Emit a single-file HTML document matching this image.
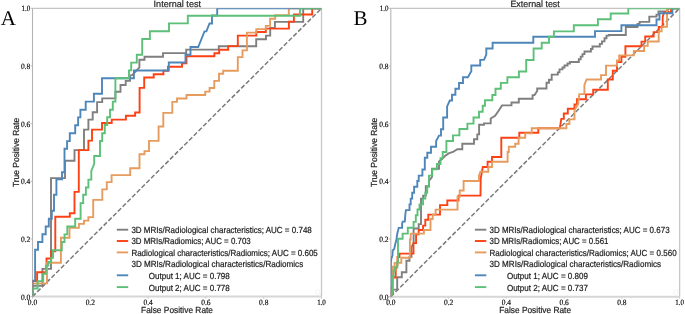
<!DOCTYPE html>
<html><head><meta charset="utf-8"><style>
html,body{margin:0;padding:0;background:#fff;}
body{width:685px;height:314px;overflow:hidden;}
svg{display:block;will-change:transform;}
text{text-rendering:geometricPrecision;}
.tk{font-family:"Liberation Serif",serif;font-size:8.0px;fill:#111;stroke:#111;stroke-width:0.2px;}
.ti{font-family:"Liberation Sans",sans-serif;font-size:9.2px;fill:#222;stroke:#222;stroke-width:0.2px;}
.al{font-family:"Liberation Sans",sans-serif;font-size:8.8px;fill:#222;stroke:#222;stroke-width:0.2px;}
.lg{font-family:"Liberation Sans",sans-serif;font-size:8.8px;fill:#1a1a1a;stroke:#1a1a1a;stroke-width:0.2px;}
.pl{font-family:"Liberation Serif",serif;font-size:21px;fill:#000;}
</style></head><body>
<svg width="685" height="314" viewBox="0 0 685 314">
<rect width="685" height="314" fill="#fff"/>
<text x="0.8" y="25.0" class="pl">A</text>
<text x="353.6" y="25.1" class="pl">B</text>
<clipPath id="c32"><rect x="32.5" y="8.3" width="289.0" height="288.3"/></clipPath>
<line x1="32.50" y1="296.6" x2="32.50" y2="298.6" stroke="#b0b0b0" stroke-width="0.8"/>
<line x1="30.5" y1="296.60" x2="32.5" y2="296.60" stroke="#b0b0b0" stroke-width="0.8"/>
<text x="27.85" y="304.50" class="tk" textLength="9.3" lengthAdjust="spacingAndGlyphs">0.0</text>
<text x="20.90" y="299.50" class="tk" textLength="9.3" lengthAdjust="spacingAndGlyphs">0.0</text>
<line x1="90.30" y1="296.6" x2="90.30" y2="298.6" stroke="#b0b0b0" stroke-width="0.8"/>
<line x1="30.5" y1="238.94" x2="32.5" y2="238.94" stroke="#b0b0b0" stroke-width="0.8"/>
<text x="85.65" y="304.50" class="tk" textLength="9.3" lengthAdjust="spacingAndGlyphs">0.2</text>
<text x="20.90" y="241.84" class="tk" textLength="9.3" lengthAdjust="spacingAndGlyphs">0.2</text>
<line x1="148.10" y1="296.6" x2="148.10" y2="298.6" stroke="#b0b0b0" stroke-width="0.8"/>
<line x1="30.5" y1="181.28" x2="32.5" y2="181.28" stroke="#b0b0b0" stroke-width="0.8"/>
<text x="143.45" y="304.50" class="tk" textLength="9.3" lengthAdjust="spacingAndGlyphs">0.4</text>
<text x="20.90" y="184.18" class="tk" textLength="9.3" lengthAdjust="spacingAndGlyphs">0.4</text>
<line x1="205.90" y1="296.6" x2="205.90" y2="298.6" stroke="#b0b0b0" stroke-width="0.8"/>
<line x1="30.5" y1="123.62" x2="32.5" y2="123.62" stroke="#b0b0b0" stroke-width="0.8"/>
<text x="201.25" y="304.50" class="tk" textLength="9.3" lengthAdjust="spacingAndGlyphs">0.6</text>
<text x="20.90" y="126.52" class="tk" textLength="9.3" lengthAdjust="spacingAndGlyphs">0.6</text>
<line x1="263.70" y1="296.6" x2="263.70" y2="298.6" stroke="#b0b0b0" stroke-width="0.8"/>
<line x1="30.5" y1="65.96" x2="32.5" y2="65.96" stroke="#b0b0b0" stroke-width="0.8"/>
<text x="259.05" y="304.50" class="tk" textLength="9.3" lengthAdjust="spacingAndGlyphs">0.8</text>
<text x="20.90" y="68.86" class="tk" textLength="9.3" lengthAdjust="spacingAndGlyphs">0.8</text>
<line x1="321.50" y1="296.6" x2="321.50" y2="298.6" stroke="#b0b0b0" stroke-width="0.8"/>
<line x1="30.5" y1="8.30" x2="32.5" y2="8.30" stroke="#b0b0b0" stroke-width="0.8"/>
<text x="317.15" y="304.50" class="tk" textLength="8.7" lengthAdjust="spacingAndGlyphs">1.0</text>
<text x="21.50" y="11.20" class="tk" textLength="8.7" lengthAdjust="spacingAndGlyphs">1.0</text>
<line x1="32.5" y1="8.3" x2="321.5" y2="8.3" stroke="#c4c4c4" stroke-width="1.3"/>
<line x1="321.5" y1="8.3" x2="321.5" y2="296.6" stroke="#c8c8c8" stroke-width="1.3"/>
<line x1="32.5" y1="296.6" x2="321.5" y2="296.6" stroke="#d6d6d6" stroke-width="2"/>
<line x1="32.5" y1="8.3" x2="32.5" y2="296.6" stroke="#b4b4b4" stroke-width="1.1"/>
<g clip-path="url(#c32)">
<line x1="32.5" y1="296.6" x2="321.5" y2="8.3" stroke="#7a7a7a" stroke-width="1.5" stroke-dasharray="4.6 2.1"/>
<polyline points="32.5,296.5 32.5,285.8 42.4,285.8 42.4,268.9 51.0,268.9 51.0,178.1 65.0,178.1 65.0,160.7 74.5,160.7 74.5,150.1 84.0,150.1 84.0,129.6 88.4,129.6 88.4,119.6 92.7,119.6 92.7,112.3 97.1,112.3 97.1,102.1 102.2,102.1 102.2,98.4 115.4,98.4 115.4,91.8 120.5,91.8 120.5,85.0 125.7,85.0 125.7,80.9 130.0,80.9 130.0,75.7 132.5,75.0 139.4,67.4 139.4,59.7 144.5,59.7 144.5,56.8 163.0,56.8 163.0,53.1 186.2,53.1 186.2,49.6 218.8,49.6 218.8,46.2 256.2,46.2 256.2,39.2 266.0,39.2 266.0,35.6 270.2,35.6 270.2,28.0 274.9,28.0 274.9,21.9 303.2,21.9 303.2,8.3 321.5,8.3" fill="none" stroke="#7f7f7f" stroke-width="1.9" stroke-linejoin="miter"/>
<polyline points="32.5,296.5 32.5,281.0 37.1,281.0 37.1,272.3 46.5,272.3 46.5,258.5 51.2,258.5 51.2,251.4 55.3,251.4 55.3,216.7 69.8,216.7 69.8,213.3 74.5,213.3 74.5,191.9 78.8,191.9 78.8,150.1 88.4,150.1 88.4,140.6 92.0,140.6 92.0,129.6 102.0,129.6 102.0,123.0 111.7,123.0 111.7,119.6 125.9,119.6 125.9,115.8 135.1,115.8 135.1,112.5 139.6,112.5 139.6,87.9 144.2,87.9 144.2,77.5 153.7,77.5 153.7,74.2 163.4,74.2 163.4,70.8 168.0,70.8 168.0,66.8 182.0,66.8 182.0,63.4 186.5,63.4 186.5,56.3 214.4,56.3 214.4,53.3 219.2,53.3 219.2,49.7 228.2,49.7 228.2,46.1 237.8,46.1 237.8,35.6 256.3,35.6 256.3,32.0 265.8,32.0 265.8,28.6 288.9,28.6 288.9,21.6 293.9,21.6 293.9,14.5 312.2,14.5 312.2,8.3 321.5,8.3" fill="none" stroke="#fc4114" stroke-width="1.9" stroke-linejoin="miter"/>
<polyline points="32.5,296.5 32.5,283.4 47.0,283.4 47.0,262.7 60.9,262.7 60.9,237.8 69.5,237.8 69.5,227.9 78.9,227.9 78.9,223.9 84.0,223.9 84.0,220.6 88.4,220.6 88.4,217.1 93.2,217.1 93.2,199.9 102.3,199.9 102.3,189.4 106.8,189.4 106.8,182.1 111.6,182.1 111.6,175.1 130.2,175.1 130.2,168.3 139.5,168.3 139.5,154.2 144.5,154.2 144.5,151.1 149.0,151.1 149.0,140.9 158.6,140.9 158.6,126.5 163.3,126.5 163.3,112.9 172.3,112.9 172.3,101.9 177.0,101.9 177.0,98.5 186.5,98.5 186.5,95.0 205.2,95.0 205.2,91.6 209.6,91.6 209.6,88.0 214.3,88.0 214.3,80.9 219.0,80.9 219.0,73.7 223.2,73.7 223.2,70.8 237.8,70.8 237.8,57.1 242.5,57.1 242.5,50.4 246.9,50.4 246.9,32.6 256.3,32.6 256.3,29.1 265.8,29.1 265.8,25.9 270.1,25.9 270.1,18.7 275.2,18.7 275.2,15.1 288.8,15.1 288.8,8.3 321.5,8.3" fill="none" stroke="#e69c5e" stroke-width="1.9" stroke-linejoin="miter"/>
<polyline points="32.5,296.5 32.5,280.7 35.1,280.7 35.1,249.7 38.0,249.7 38.0,242.0 42.4,242.0 42.4,234.3 45.7,234.3 45.7,226.5 48.8,226.5 48.8,218.7 51.8,218.7 51.8,210.8 54.0,210.8 54.0,194.8 56.4,194.8 56.4,179.4 62.0,179.4 62.0,172.3 64.5,172.3 64.5,148.7 67.1,148.7 67.1,141.1 69.8,141.1 69.8,133.3 75.2,133.3 75.2,125.2 78.1,125.2 78.1,117.4 80.4,117.4 80.4,109.7 85.7,109.7 85.7,101.6 93.9,101.6 93.9,93.7 102.0,93.7 102.0,78.2 133.9,78.2 133.9,70.5 168.8,70.5 168.8,62.5 185.5,62.5 185.5,54.7 190.5,54.7 190.5,47.0 198.2,47.0 204.5,31.4 206.4,31.4 209.5,23.5 212.0,23.5 212.0,15.5 217.2,15.5 217.2,8.3 321.5,8.3" fill="none" stroke="#4e86ba" stroke-width="1.9" stroke-linejoin="miter"/>
<polyline points="32.5,296.5 32.5,288.5 37.6,288.5 37.6,281.1 43.2,281.1 43.2,273.7 45.9,273.7 45.9,265.6 48.3,265.6 48.3,262.0 51.2,262.0 51.2,257.9 53.0,257.9 53.0,250.3 61.8,250.3 61.8,242.0 64.5,242.0 64.5,234.4 67.3,234.4 67.3,226.5 75.2,226.5 75.2,218.7 80.6,218.7 80.6,203.1 83.2,203.1 83.2,194.8 85.9,194.8 85.9,187.5 88.4,187.5 88.4,179.6 91.3,179.6 91.3,171.0 94.2,163.8 94.2,156.0 100.0,156.0 100.0,141.0 102.2,141.0 102.2,133.3 104.8,133.3 104.8,125.0 107.2,125.0 107.2,117.2 110.0,117.2 110.0,109.7 112.8,109.7 112.8,101.6 115.4,101.6 115.4,78.2 129.0,78.2 129.0,70.4 131.2,70.4 131.2,62.6 136.8,62.6 136.8,54.7 142.2,54.7 142.2,39.0 149.9,39.0 149.9,31.2 169.0,31.2 169.0,23.4 187.8,23.4 187.8,15.7 300.0,15.7 300.0,8.3 321.5,8.3" fill="none" stroke="#5cc078" stroke-width="1.9" stroke-linejoin="miter"/>
</g>
<text x="153.6" y="7.0" class="ti" textLength="47.4" lengthAdjust="spacingAndGlyphs">Internal test</text>
<text x="141.1" y="313.1" class="al" textLength="71.9" lengthAdjust="spacingAndGlyphs">False Positive Rate</text>
<text transform="translate(18.6,187.1) rotate(-90)" x="0" y="0" class="al" textLength="69.2" lengthAdjust="spacingAndGlyphs">True Positive Rate</text>
<line x1="116.8" y1="229.7" x2="128.2" y2="229.7" stroke="#7f7f7f" stroke-width="1.9"/>
<text x="131.4" y="232.50" class="lg" textLength="180.4" lengthAdjust="spacingAndGlyphs">3D MRIs/Radiological characteristics; AUC = 0.748</text>
<line x1="116.8" y1="241.0" x2="128.2" y2="241.0" stroke="#fc4114" stroke-width="1.9"/>
<text x="131.4" y="244.05" class="lg" textLength="119.3" lengthAdjust="spacingAndGlyphs">3D MRIs/Radiomics; AUC = 0.703</text>
<line x1="116.8" y1="252.4" x2="128.2" y2="252.4" stroke="#e69c5e" stroke-width="1.9"/>
<text x="131.4" y="255.60" class="lg" textLength="186.4" lengthAdjust="spacingAndGlyphs">Radiological characteristics/Radiomics; AUC = 0.605</text>
<text x="131.4" y="267.15" class="lg" textLength="171.8" lengthAdjust="spacingAndGlyphs">3D MRIs/Radiological characteristics/Radiomics</text>
<line x1="116.8" y1="275.3" x2="128.2" y2="275.3" stroke="#4e86ba" stroke-width="1.9"/>
<text x="148.8" y="279.00" class="lg" textLength="81.0" lengthAdjust="spacingAndGlyphs">Output 1; AUC = 0.798</text>
<line x1="116.8" y1="287.1" x2="128.2" y2="287.1" stroke="#5cc078" stroke-width="1.9"/>
<text x="148.8" y="290.50" class="lg" textLength="81.0" lengthAdjust="spacingAndGlyphs">Output 2; AUC = 0.778</text>
<rect x="315.6" y="290.2" width="3.8" height="4" rx="1" fill="none" stroke="#ececec" stroke-width="0.6"/>
<clipPath id="c390"><rect x="390.8" y="8.3" width="288.8" height="288.4"/></clipPath>
<line x1="390.80" y1="296.7" x2="390.80" y2="298.7" stroke="#b0b0b0" stroke-width="0.8"/>
<line x1="388.8" y1="296.70" x2="390.8" y2="296.70" stroke="#b0b0b0" stroke-width="0.8"/>
<text x="386.15" y="304.60" class="tk" textLength="9.3" lengthAdjust="spacingAndGlyphs">0.0</text>
<text x="379.20" y="299.60" class="tk" textLength="9.3" lengthAdjust="spacingAndGlyphs">0.0</text>
<line x1="448.56" y1="296.7" x2="448.56" y2="298.7" stroke="#b0b0b0" stroke-width="0.8"/>
<line x1="388.8" y1="239.02" x2="390.8" y2="239.02" stroke="#b0b0b0" stroke-width="0.8"/>
<text x="443.91" y="304.60" class="tk" textLength="9.3" lengthAdjust="spacingAndGlyphs">0.2</text>
<text x="379.20" y="241.92" class="tk" textLength="9.3" lengthAdjust="spacingAndGlyphs">0.2</text>
<line x1="506.32" y1="296.7" x2="506.32" y2="298.7" stroke="#b0b0b0" stroke-width="0.8"/>
<line x1="388.8" y1="181.34" x2="390.8" y2="181.34" stroke="#b0b0b0" stroke-width="0.8"/>
<text x="501.67" y="304.60" class="tk" textLength="9.3" lengthAdjust="spacingAndGlyphs">0.4</text>
<text x="379.20" y="184.24" class="tk" textLength="9.3" lengthAdjust="spacingAndGlyphs">0.4</text>
<line x1="564.08" y1="296.7" x2="564.08" y2="298.7" stroke="#b0b0b0" stroke-width="0.8"/>
<line x1="388.8" y1="123.66" x2="390.8" y2="123.66" stroke="#b0b0b0" stroke-width="0.8"/>
<text x="559.43" y="304.60" class="tk" textLength="9.3" lengthAdjust="spacingAndGlyphs">0.6</text>
<text x="379.20" y="126.56" class="tk" textLength="9.3" lengthAdjust="spacingAndGlyphs">0.6</text>
<line x1="621.84" y1="296.7" x2="621.84" y2="298.7" stroke="#b0b0b0" stroke-width="0.8"/>
<line x1="388.8" y1="65.98" x2="390.8" y2="65.98" stroke="#b0b0b0" stroke-width="0.8"/>
<text x="617.19" y="304.60" class="tk" textLength="9.3" lengthAdjust="spacingAndGlyphs">0.8</text>
<text x="379.20" y="68.88" class="tk" textLength="9.3" lengthAdjust="spacingAndGlyphs">0.8</text>
<line x1="679.60" y1="296.7" x2="679.60" y2="298.7" stroke="#b0b0b0" stroke-width="0.8"/>
<line x1="388.8" y1="8.30" x2="390.8" y2="8.30" stroke="#b0b0b0" stroke-width="0.8"/>
<text x="675.25" y="304.60" class="tk" textLength="8.7" lengthAdjust="spacingAndGlyphs">1.0</text>
<text x="379.80" y="11.20" class="tk" textLength="8.7" lengthAdjust="spacingAndGlyphs">1.0</text>
<line x1="390.8" y1="8.3" x2="679.6" y2="8.3" stroke="#c4c4c4" stroke-width="1.3"/>
<line x1="679.6" y1="8.3" x2="679.6" y2="296.7" stroke="#c8c8c8" stroke-width="1.3"/>
<line x1="390.8" y1="296.7" x2="679.6" y2="296.7" stroke="#d6d6d6" stroke-width="2"/>
<line x1="390.8" y1="8.3" x2="390.8" y2="296.7" stroke="#b4b4b4" stroke-width="1.1"/>
<g clip-path="url(#c390)">
<line x1="390.8" y1="296.7" x2="679.6" y2="8.3" stroke="#7a7a7a" stroke-width="1.5" stroke-dasharray="4.6 2.1"/>
<polyline points="390.9,296.7 393.0,292.5 393.0,289.6 397.2,289.6 397.2,277.3 401.8,277.3 401.8,272.2 406.4,272.2 406.4,260.7 409.5,260.7 409.5,256.9 411.5,256.9 411.5,247.0 413.6,243.1 413.6,228.5 418.7,228.5 418.7,224.1 421.0,224.1 421.0,198.6 423.1,198.6 423.1,195.6 425.8,195.6 425.8,186.1 429.0,186.1 429.0,181.0 432.0,177.0 432.0,168.8 439.0,168.8 439.0,161.5 442.0,159.0 445.0,156.0 448.6,153.4 453.0,152.0 457.3,149.2 462.3,149.2 462.3,143.8 474.0,143.8 474.0,139.2 477.3,139.2 477.3,134.4 479.1,134.4 479.1,124.8 484.0,124.8 484.0,123.4 490.7,123.4 490.7,118.5 495.1,115.9 498.8,110.5 502.0,105.4 511.5,105.4 511.5,102.5 518.8,102.5 518.8,98.7 532.6,98.7 532.6,95.1 534.5,95.1 537.2,91.0 537.2,88.5 546.5,88.5 546.5,82.7 549.0,82.7 549.0,79.8 551.7,79.8 551.7,74.6 557.8,74.6 557.8,72.4 559.5,72.4 559.5,69.4 562.5,69.4 562.5,67.5 564.5,67.5 564.5,65.5 567.5,65.5 567.5,63.5 569.9,63.5 569.9,62.0 578.8,62.0 578.8,59.2 580.7,59.2 580.7,56.6 582.5,56.6 582.5,54.1 584.5,54.1 584.5,51.5 590.9,51.5 590.9,49.0 592.5,49.0 592.5,46.5 599.8,46.5 599.8,43.9 602.0,43.9 602.0,41.4 604.5,41.4 604.5,38.2 606.5,38.2 606.5,35.6 608.9,35.6 608.9,35.0 625.8,35.0 625.8,27.0 637.5,27.0 637.5,23.9 639.6,23.9 639.6,21.9 649.3,21.9 649.3,16.6 656.5,16.6 656.5,14.6 658.5,14.6 658.5,11.4 667.8,11.4 667.8,8.3 679.5,8.3" fill="none" stroke="#7f7f7f" stroke-width="1.9" stroke-linejoin="miter"/>
<polyline points="390.9,296.7 390.9,287.5 392.6,287.5 392.6,277.5 395.7,277.5 395.7,269.0 397.5,265.0 397.5,257.0 399.5,257.0 399.5,253.6 413.5,253.6 413.5,243.1 416.1,243.1 416.1,234.4 418.7,234.4 418.7,230.0 423.1,230.0 423.1,225.6 425.3,225.6 425.3,219.7 428.3,219.7 428.3,214.6 440.0,214.6 440.0,205.1 447.3,205.1 447.3,200.5 458.5,200.5 458.5,195.6 480.5,195.6 480.7,178.7 482.8,167.0 487.6,167.0 487.6,161.8 492.0,161.8 492.0,157.0 501.3,157.0 501.3,137.8 519.3,137.8 519.3,132.7 538.3,132.7 538.3,128.3 559.8,128.3 561.3,118.9 563.8,118.9 563.8,113.5 567.8,113.5 567.8,108.8 574.5,108.8 574.5,104.5 577.0,104.5 577.0,99.2 585.9,99.2 585.9,94.4 593.2,94.4 593.2,89.7 607.8,89.7 607.8,79.5 612.8,79.5 612.8,70.7 617.0,70.7 617.0,62.0 621.4,62.0 621.4,56.8 625.4,56.8 625.4,46.2 641.5,46.2 641.5,41.6 645.2,41.6 645.2,36.5 653.6,36.5 653.6,32.1 658.7,32.1 658.7,27.0 662.7,27.0 662.7,17.0 664.0,12.2 671.0,12.2 671.0,8.3 679.5,8.3" fill="none" stroke="#fc4114" stroke-width="1.9" stroke-linejoin="miter"/>
<polyline points="390.9,296.7 392.9,290.0 392.9,266.7 394.6,266.7 394.6,262.9 401.3,262.9 401.3,257.7 409.9,257.7 409.9,239.5 410.7,239.5 410.7,233.6 423.9,233.6 423.9,230.0 430.5,230.0 430.5,219.0 432.7,219.0 432.7,214.6 435.6,214.6 435.6,209.6 457.5,209.6 457.5,197.1 459.7,197.1 459.7,190.5 463.6,190.5 463.6,181.0 479.0,181.0 479.0,175.7 480.4,171.7 488.3,171.7 488.3,167.0 492.0,167.0 492.0,161.8 507.6,161.8 507.6,152.0 508.8,152.0 508.8,146.8 515.2,146.8 515.2,143.7 518.6,143.7 518.6,137.8 525.2,137.8 525.2,133.4 531.7,133.4 531.7,128.2 566.4,128.2 566.4,124.0 569.4,124.0 569.4,119.4 574.5,119.4 574.5,110.2 578.1,104.1 579.3,94.1 584.4,94.1 584.4,85.0 586.6,79.5 601.0,79.5 601.0,75.1 606.0,75.1 606.0,65.6 617.0,65.6 617.0,60.5 619.2,60.5 619.2,55.4 633.8,55.4 633.8,51.0 644.1,51.0 644.1,45.9 647.7,45.9 647.7,41.5 658.7,41.5 658.7,31.4 661.6,31.4 661.6,26.7 667.0,26.7 667.0,8.3 679.5,8.3" fill="none" stroke="#e69c5e" stroke-width="1.9" stroke-linejoin="miter"/>
<polyline points="390.9,296.7 390.9,262.0 391.3,259.0 392.5,255.3 392.6,250.5 394.2,249.0 395.5,243.0 396.4,240.0 396.9,236.0 397.4,233.0 398.2,230.0 398.7,227.9 402.1,227.9 402.1,223.5 402.7,221.6 404.8,221.6 405.3,215.2 405.9,210.1 409.5,210.1 409.5,204.4 410.7,204.4 410.7,198.6 412.2,198.6 412.2,192.7 414.1,192.7 414.1,186.8 417.3,186.8 417.3,181.0 418.7,181.0 418.7,175.6 422.4,175.6 422.4,169.5 424.8,169.5 424.8,157.8 427.3,157.8 427.3,152.7 431.0,152.7 431.0,146.8 436.1,146.8 436.1,141.0 439.0,135.6 441.0,135.6 441.0,129.2 443.2,129.2 443.2,117.5 447.1,117.5 447.1,106.4 449.8,100.5 452.0,100.5 452.0,94.7 455.4,94.7 455.4,88.8 459.0,88.8 459.0,83.0 463.0,83.0 463.0,77.2 467.9,77.2 471.3,71.3 471.3,65.5 480.2,65.5 480.2,59.9 484.0,59.9 486.3,54.6 486.3,48.5 492.6,48.5 492.6,42.7 533.3,42.7 533.3,36.8 595.0,36.8 595.0,31.1 621.4,31.1 621.4,25.3 656.5,25.3 656.5,19.5 659.5,19.5 659.5,13.2 672.4,13.2 672.4,8.3 679.5,8.3" fill="none" stroke="#4e86ba" stroke-width="1.9" stroke-linejoin="miter"/>
<polyline points="390.9,296.7 392.3,292.0 392.3,276.2 393.6,276.2 393.6,270.6 395.0,270.6 395.0,267.5 397.3,267.5 397.3,262.0 398.0,262.0 398.0,238.7 402.6,238.7 402.6,233.6 407.8,233.6 407.8,227.8 413.6,227.8 413.6,221.9 415.8,221.9 415.8,215.3 417.5,215.3 417.5,209.5 419.5,209.5 419.5,204.4 423.1,204.4 423.1,198.6 425.3,198.6 425.3,192.7 427.2,192.7 427.2,186.8 429.0,186.8 429.0,175.6 432.2,175.6 432.2,169.2 436.9,169.2 436.9,164.0 440.5,164.0 440.5,158.1 442.7,158.1 442.7,152.0 446.4,152.0 446.4,141.0 453.0,141.0 453.0,135.4 459.4,135.4 459.4,129.0 467.4,129.0 467.4,123.6 473.5,123.6 473.5,117.5 479.0,117.5 479.0,111.7 482.7,111.7 482.7,105.8 485.0,105.8 485.0,100.2 492.3,100.2 492.3,95.0 495.5,95.0 495.5,88.7 500.8,88.7 500.8,82.9 507.4,82.9 507.4,77.2 518.9,77.2 518.9,71.5 526.2,71.5 526.2,60.0 533.6,60.0 533.6,48.5 541.7,48.5 541.7,42.8 549.0,42.8 549.0,36.8 553.9,36.8 553.9,31.4 573.8,31.4 573.8,25.2 597.9,25.2 597.9,19.3 610.7,19.3 610.7,13.5 628.3,13.5 628.3,8.3 679.5,8.3" fill="none" stroke="#5cc078" stroke-width="1.9" stroke-linejoin="miter"/>
</g>
<text x="510.4" y="7.3" class="ti" textLength="49.4" lengthAdjust="spacingAndGlyphs">External test</text>
<text x="499.20000000000005" y="313.1" class="al" textLength="71.9" lengthAdjust="spacingAndGlyphs">False Positive Rate</text>
<text transform="translate(376.70000000000005,187.1) rotate(-90)" x="0" y="0" class="al" textLength="69.2" lengthAdjust="spacingAndGlyphs">True Positive Rate</text>
<line x1="474.90000000000003" y1="229.7" x2="486.3" y2="229.7" stroke="#7f7f7f" stroke-width="1.9"/>
<text x="489.5" y="232.50" class="lg" textLength="180.1" lengthAdjust="spacingAndGlyphs">3D MRIs/Radiological characteristics; AUC = 0.673</text>
<line x1="474.90000000000003" y1="241.0" x2="486.3" y2="241.0" stroke="#fc4114" stroke-width="1.9"/>
<text x="489.5" y="244.05" class="lg" textLength="119.0" lengthAdjust="spacingAndGlyphs">3D MRIs/Radiomics; AUC = 0.561</text>
<line x1="474.90000000000003" y1="252.4" x2="486.3" y2="252.4" stroke="#e69c5e" stroke-width="1.9"/>
<text x="489.5" y="255.60" class="lg" textLength="187.1" lengthAdjust="spacingAndGlyphs">Radiological characteristics/Radiomics; AUC = 0.560</text>
<text x="489.5" y="267.15" class="lg" textLength="171.5" lengthAdjust="spacingAndGlyphs">3D MRIs/Radiological characteristics/Radiomics</text>
<line x1="474.90000000000003" y1="275.3" x2="486.3" y2="275.3" stroke="#4e86ba" stroke-width="1.9"/>
<text x="506.90000000000003" y="279.00" class="lg" textLength="81.0" lengthAdjust="spacingAndGlyphs">Output 1; AUC = 0.809</text>
<line x1="474.90000000000003" y1="287.1" x2="486.3" y2="287.1" stroke="#5cc078" stroke-width="1.9"/>
<text x="506.90000000000003" y="290.50" class="lg" textLength="81.0" lengthAdjust="spacingAndGlyphs">Output 2; AUC = 0.737</text>
<rect x="673.7" y="290.2" width="3.8" height="4" rx="1" fill="none" stroke="#ececec" stroke-width="0.6"/>
</svg>
</body></html>
